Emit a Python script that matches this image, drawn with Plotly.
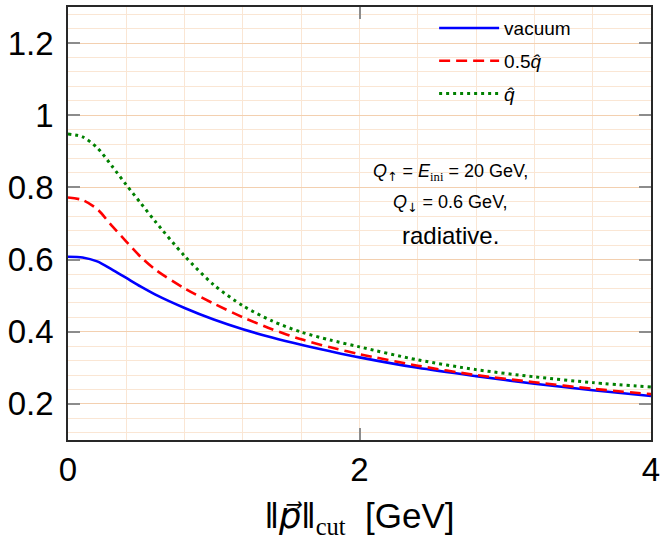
import plotly.graph_objects as go

# data
p_cut = [0, 0.1, 0.2, 0.3, 0.4, 0.5, 0.6, 0.8, 1.0, 1.2, 1.4, 1.6, 1.8, 2.0, 2.4, 2.8, 3.2, 3.6, 4.0]
vacuum = [0.608, 0.606, 0.595, 0.573, 0.549, 0.525, 0.503, 0.466, 0.434, 0.407, 0.384, 0.364, 0.346, 0.329, 0.300, 0.277, 0.256, 0.238, 0.222]
half_qhat = [0.772, 0.765, 0.740, 0.694, 0.650, 0.607, 0.572, 0.520, 0.478, 0.440, 0.407, 0.379, 0.357, 0.338, 0.306, 0.280, 0.260, 0.242, 0.227]
qhat = [0.948, 0.940, 0.910, 0.860, 0.807, 0.756, 0.705, 0.610, 0.530, 0.472, 0.430, 0.399, 0.377, 0.358, 0.322, 0.295, 0.275, 0.259, 0.247]

series_names = ["vacuum", "0.5<i>q̂</i>", "<i>q̂</i>"]
x_ticks = [0, 2, 4]
y_ticks = [0.2, 0.4, 0.6, 0.8, 1.0, 1.2]
y_tick_labels = ["0.2", "0.4", "0.6", "0.8", "1", "1.2"]

FONT = "Liberation Sans, Arial, sans-serif"

fig = go.Figure()
styles = [
    dict(color="rgb(0,0,255)", width=2.6, dash="solid"),
    dict(color="rgb(255,0,0)", width=2.6, dash="11px,6px"),
    dict(color="rgb(0,128,0)", width=3, dash="3px,4px"),
]
for i, (name, ys) in enumerate(zip(series_names, [vacuum, half_qhat, qhat])):
    fig.add_trace(go.Scatter(
        x=p_cut, y=ys, mode="lines", name=name,
        line=dict(shape="spline", smoothing=0.8, **styles[i]),
        legendgroup=f"g{i}",
    ))

grid_minor = "rgb(250,230,212)"
grid_major = "rgb(243,208,176)"
frame = "rgb(40,40,40)"
tickc = "rgb(140,140,140)"

fig.update_layout(
    width=661, height=543,
    margin=dict(l=68, r=10, t=7, b=103),
    paper_bgcolor="white", plot_bgcolor="white",
    font=dict(family=FONT, color="black"),
    showlegend=True,
    legend=dict(
        x=0.628, y=0.995, xanchor="left", yanchor="top",
        bgcolor="rgba(0,0,0,0)", borderwidth=0,
        font=dict(size=19, family=FONT),
        tracegroupgap=5, itemwidth=60,
    ),
    xaxis=dict(
        range=[0, 4], tickvals=x_ticks, ticktext=[str(v) for v in x_ticks],
        automargin=False,
        ticks="inside", ticklen=12, tickwidth=1.5, tickcolor=tickc,
        showline=True, linecolor=frame, linewidth=1.5, mirror="allticks",
        showgrid=True, gridcolor=grid_minor, gridwidth=1,
        minor=dict(dtick=0.4, tick0=0, showgrid=True, gridcolor=grid_minor, gridwidth=1),
        zeroline=False,
        tickfont=dict(size=33, family=FONT),
        title=dict(text="‖<span style=\"font-family:DejaVu Sans\"><i>p⃗</i></span>‖<sub><span style=\"font-family:Liberation Serif\">cut</span></sub>  [GeV]",
                   font=dict(size=35, family=FONT), standoff=16),
    ),
    yaxis=dict(
        range=[0.1, 1.3], tickvals=y_ticks, ticktext=y_tick_labels,
        automargin=False,
        ticks="inside", ticklen=12, tickwidth=1.5, tickcolor=tickc,
        showline=True, linecolor=frame, linewidth=1.5, mirror="allticks",
        showgrid=True, gridcolor=grid_major, gridwidth=1,
        minor=dict(dtick=0.04, tick0=0.2, showgrid=True, gridcolor=grid_minor, gridwidth=1),
        zeroline=False,
        tickfont=dict(size=33, family=FONT),
        ticklabelstandoff=6,
    ),
)

arrow = "<span style=\"font-family:DejaVu Sans\">{}</span>"
ann_lines = [
    ("<i>Q</i><sub>" + arrow.format("↑") + "</sub> = <i>E</i><sub><span style=\"font-family:Liberation Serif\">ini</span></sub> = 20 GeV,", 172, 18),
    ("<i>Q</i><sub>" + arrow.format("↓") + "</sub> = 0.6 GeV,", 203, 18),
    ("radiative.", 235, 24),
]
for text, ypx, size in ann_lines:
    fig.add_annotation(
        x=(450 - 68) / 583, y=1 - (ypx - 7) / 433, xref="paper", yref="paper",
        text=text, showarrow=False, xanchor="center", yanchor="middle",
        font=dict(size=size, family=FONT, color="black"),
    )

fig.write_html(
    "out.html",
    config={"displayModeBar": False},
    post_script="document.body.style.margin='0';document.body.style.padding='0';"
                "document.body.style.overflow='hidden';document.documentElement.style.overflow='hidden';",
)
